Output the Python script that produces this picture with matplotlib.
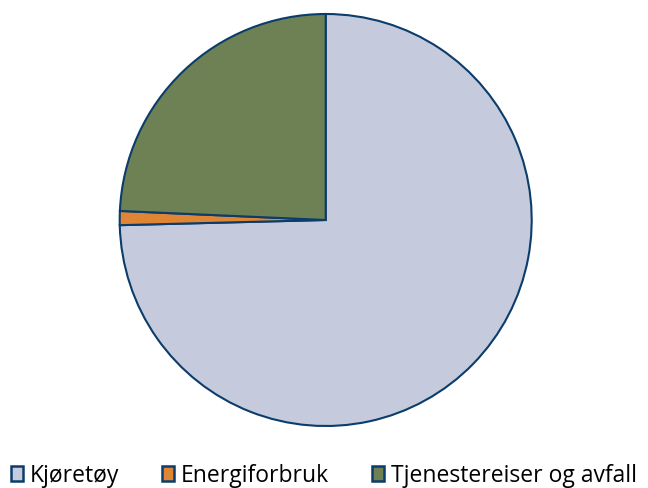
import matplotlib.pyplot as plt
from matplotlib.patches import Patch

W, H = 648, 489

labels = ["Kjøretøy", "Energiforbruk", "Tjenestereiser og avfall"]
shares = [74.6, 1.1, 24.3]
colors = ["#C5CBDD", "#E08533", "#6E8154"]
EDGE = "#0B3C6B"

plt.rcParams['font.family'] = ['Open Sans', 'DejaVu Sans']

fig = plt.figure(figsize=(W / 100, H / 100), dpi=100)
cx, cy, r = 325.7, 221, 206
ax = fig.add_axes([(cx - r) / W, (H - cy - r) / H, 2 * r / W, 2 * r / H])

ax.pie(shares, colors=colors, startangle=90, counterclock=False, radius=1,
       wedgeprops=dict(edgecolor=EDGE, linewidth=1.5))
ax.set_xlim(-1, 1)
ax.set_ylim(-1, 1)
ax.set_aspect('equal')
ax.axis('off')

handles = [Patch(facecolor=c, edgecolor=EDGE, linewidth=1.8) for c in colors]
fig.legend(handles, labels, loc='center', ncol=3, frameon=False,
           bbox_to_anchor=(0.5, (H - 476.5) / H), fontsize=16.5,
           handlelength=0.5, handleheight=0.6, handletextpad=0.3,
           columnspacing=1.9, borderaxespad=0, borderpad=0)

fig.savefig("out.png", dpi=100)
